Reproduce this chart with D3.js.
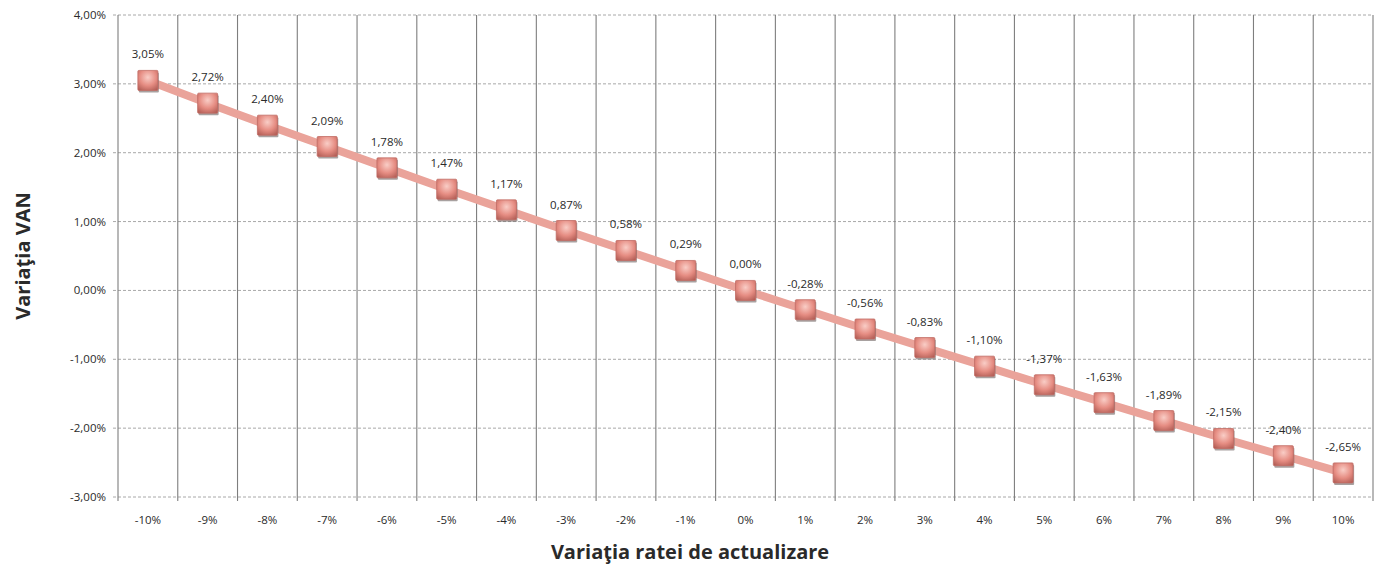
<!DOCTYPE html>
<html>
<head>
<meta charset="utf-8">
<script src="https://cdn.jsdelivr.net/npm/d3@7"></script>
<style>
  html, body { margin: 0; padding: 0; background: #fff; }
  svg text { font-family: "Open Sans", "Noto Sans", "Liberation Sans", sans-serif; fill: #2a2a2a; }
</style>
</head>
<body>
<svg id="chart" width="1384" height="566"></svg>
<script>
// Sensitivity of NPV (VAN) to the discount-rate variation
const categories = ["-10%","-9%","-8%","-7%","-6%","-5%","-4%","-3%","-2%","-1%","0%",
                    "1%","2%","3%","4%","5%","6%","7%","8%","9%","10%"];
const vanVariation = [3.05, 2.72, 2.40, 2.09, 1.78, 1.47, 1.17, 0.87, 0.58, 0.29, 0.00,
                      -0.28, -0.56, -0.83, -1.10, -1.37, -1.63, -1.89, -2.15, -2.40, -2.65];
const yTicks = [-3, -2, -1, 0, 1, 2, 3, 4];

const svg = d3.select("#chart");
const margin = { left: 118, right: 11, top: 15, bottom: 69 };
const W = 1384, H = 566;

const x = d3.scaleBand().domain(categories).range([margin.left, W - margin.right]).padding(0);
const y = d3.scaleLinear().domain([-3, 4]).range([H - margin.bottom, margin.top]);

const fmt = v => v.toFixed(2).replace(".", ",") + "%";

// Gradient for the bevelled square markers
const defs = svg.append("defs");
const grad = defs.append("radialGradient").attr("id", "mk").attr("cx", "50%").attr("cy", "35%").attr("r", "75%");
grad.append("stop").attr("offset", "0%").attr("stop-color", "#f9cdc6");
grad.append("stop").attr("offset", "55%").attr("stop-color", "#e68d83");
grad.append("stop").attr("offset", "100%").attr("stop-color", "#b35e56");

// Horizontal gridlines (dotted grey)
svg.append("g").selectAll("line").data(yTicks).join("line")
  .attr("x1", margin.left - 5).attr("x2", W - margin.right)
  .attr("y1", d => y(d)).attr("y2", d => y(d))
  .attr("stroke", "#a8a8a8").attr("stroke-width", 1).attr("stroke-dasharray", "3,2");

// Vertical gridlines at category boundaries
const bounds = categories.map(c => x(c)).concat([W - margin.right]);
svg.append("g").selectAll("line").data(bounds).join("line")
  .attr("x1", d => d).attr("x2", d => d)
  .attr("y1", margin.top).attr("y2", H - margin.bottom + 4)
  .attr("stroke", "#7e7e7e").attr("stroke-width", 1.1);

// Y axis labels
svg.append("g").selectAll("text").data(yTicks).join("text")
  .attr("x", margin.left - 12).attr("y", d => y(d)).attr("dy", "0.35em")
  .attr("text-anchor", "end").attr("font-size", 11.5).text(d => fmt(d));

// X axis labels
svg.append("g").selectAll("text").data(categories).join("text")
  .attr("x", d => x(d) + x.bandwidth() / 2).attr("y", H - margin.bottom + 27)
  .attr("text-anchor", "middle").attr("font-size", 11.5).text(d => d);

// Axis titles
svg.append("text").attr("x", 690).attr("y", 559).attr("text-anchor", "middle")
  .attr("font-size", 20).attr("font-weight", "bold").attr("fill", "#444")
  .text("Variaţia ratei de actualizare");
svg.append("text").attr("transform", "translate(30,256) rotate(-90)").attr("text-anchor", "middle")
  .attr("font-size", 20).attr("font-weight", "bold").attr("fill", "#444")
  .text("Variaţia VAN");

const pts = categories.map((c, i) => ({ c, v: vanVariation[i] }));
const cx = d => x(d.c) + x.bandwidth() / 2;

// Series line
svg.append("path").datum(pts)
  .attr("d", d3.line().x(cx).y(d => y(d.v)))
  .attr("fill", "none").attr("stroke", "#eaa39a").attr("stroke-width", 8).attr("stroke-linecap", "round");

// Markers: shadow + bevelled square
const s = 20;
svg.append("g").selectAll("rect").data(pts).join("rect")
  .attr("x", d => cx(d) - s / 2 + 1).attr("y", d => y(d.v) - s / 2 + 2)
  .attr("width", s).attr("height", s).attr("rx", 1)
  .attr("fill", "#6e6260").attr("opacity", 0.6);
svg.append("g").selectAll("rect").data(pts).join("rect")
  .attr("x", d => cx(d) - s / 2).attr("y", d => y(d.v) - s / 2)
  .attr("width", s).attr("height", s).attr("rx", 1)
  .attr("fill", "url(#mk)").attr("stroke", "#c26c64").attr("stroke-width", 0.8);

// Data labels
svg.append("g").selectAll("text").data(pts).join("text")
  .attr("x", cx).attr("y", d => y(d.v) - 22)
  .attr("text-anchor", "middle").attr("font-size", 11.5).text(d => fmt(d.v));
</script>
</body>
</html>
